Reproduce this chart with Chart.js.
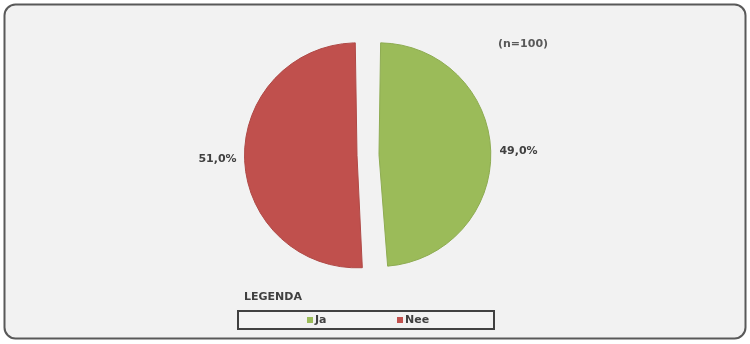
<!DOCTYPE html>
<html>
<head>
<meta charset="utf-8">
<script src="https://cdn.jsdelivr.net/npm/chart.js@4"></script>
<style>
  html, body { margin: 0; padding: 0; background: #fff; }
  canvas { display: block; }
</style>
</head>
<body>
<canvas id="c" width="750" height="344"></canvas>
<script>
const categories = ["Ja", "Nee"];
const values = [49.0, 51.0];
const colors = ["#9bbb59", "#c0504d"];
const edgeColors = ["#8eac52", "#b04a47"];
const sampleNote = "(n=100)";
const legendTitle = "LEGENDA";

// achtergrond + kader
const frame = {
  id: "frame",
  beforeDraw(chart) {
    const ctx = chart.ctx;
    ctx.save();
    ctx.fillStyle = "#fff";
    ctx.fillRect(0, 0, chart.width, chart.height);
    ctx.beginPath();
    ctx.roundRect(4.5, 4.5, 741, 334, 11);
    ctx.fillStyle = "#f2f2f2";
    ctx.fill();
    ctx.lineWidth = 2;
    ctx.strokeStyle = "#595959";
    ctx.stroke();
    ctx.restore();
  }
};

// percentages naast de taartpunten
const sliceLabels = {
  id: "sliceLabels",
  afterDatasetsDraw(chart) {
    const ctx = chart.ctx;
    const meta = chart.getDatasetMeta(0);
    ctx.save();
    ctx.font = "bold 11px 'DejaVu Sans', Verdana, sans-serif";
    ctx.fillStyle = "#404040";
    ctx.textBaseline = "middle";
    meta.data.forEach((arc, i) => {
      const p = arc.getProps(["x", "y", "startAngle", "endAngle", "outerRadius"], true);
      const mid = (p.startAngle + p.endAngle) / 2;
      const off = chart.data.datasets[0].offset / 4; // chart.js tekent offset/4
      const r = p.outerRadius + 2 * off + 8;
      const x = p.x + Math.cos(mid) * r;
      const y = p.y + Math.sin(mid) * r;
      ctx.textAlign = Math.cos(mid) >= 0 ? "left" : "right";
      ctx.fillText(values[i].toFixed(1).replace(".", ",") + "%", x, y);
    });
    // n
    ctx.textAlign = "left";
    ctx.fillStyle = "#595959";
    ctx.fillText(sampleNote, 498, 44);
    ctx.restore();
  }
};

// legenda onderaan met kader
const legendBox = {
  id: "legendBox",
  afterDraw(chart) {
    const ctx = chart.ctx;
    ctx.save();
    ctx.font = "bold 11px 'DejaVu Sans', Verdana, sans-serif";
    ctx.fillStyle = "#404040";
    ctx.textBaseline = "middle";
    ctx.textAlign = "left";
    ctx.fillText(legendTitle, 244, 297);
    ctx.lineWidth = 2;
    ctx.strokeStyle = "#404040";
    ctx.strokeRect(238, 311, 256, 18);
    const xs = [307, 397];
    categories.forEach((c, i) => {
      ctx.fillStyle = colors[i];
      ctx.fillRect(xs[i], 317, 6, 6);
      ctx.fillStyle = "#404040";
      ctx.fillText(c, xs[i] + 8, 320);
    });
    ctx.restore();
  }
};

new Chart(document.getElementById("c").getContext("2d"), {
  type: "pie",
  data: {
    labels: categories,
    datasets: [{
      data: values,
      backgroundColor: colors,
      borderColor: edgeColors,
      borderWidth: 1,
      offset: 44
    }]
  },
  options: {
    responsive: false,
    devicePixelRatio: 1,
    animation: false,
    layout: {
      padding: { top: 31, bottom: 65, left: 218, right: 232 }
    },
    plugins: {
      legend: { display: false },
      tooltip: { enabled: false }
    }
  },
  plugins: [frame, sliceLabels, legendBox]
});
</script>
</body>
</html>
